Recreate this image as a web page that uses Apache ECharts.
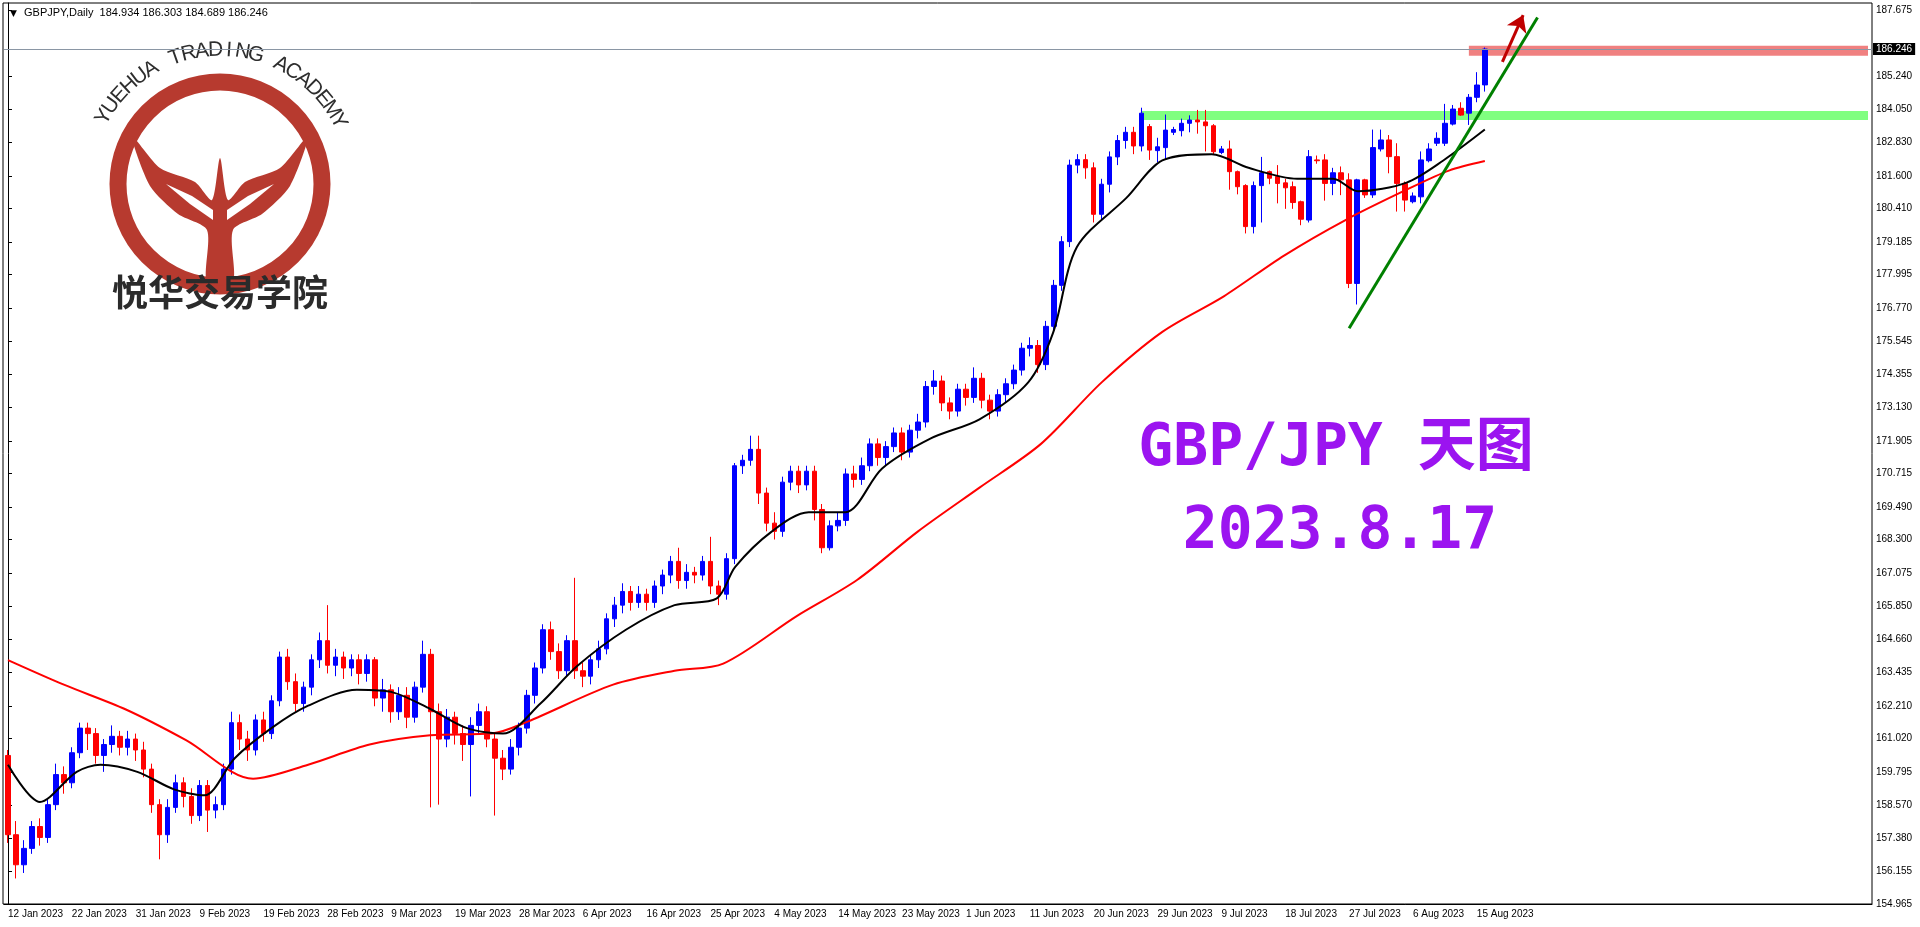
<!DOCTYPE html>
<html><head><meta charset="utf-8">
<script src="https://cdn.jsdelivr.net/npm/echarts@6/dist/echarts.min.js"></script>
<style>html,body{margin:0;padding:0;background:#fff}#c{width:1920px;height:927px}</style>
</head><body><div id="c"></div>
<script>
// ---- data ----
const dateLabels = ['12 Jan 2023','22 Jan 2023','31 Jan 2023','9 Feb 2023','19 Feb 2023','28 Feb 2023','9 Mar 2023','19 Mar 2023','28 Mar 2023','6 Apr 2023','16 Apr 2023','25 Apr 2023','4 May 2023','14 May 2023','23 May 2023','1 Jun 2023','11 Jun 2023','20 Jun 2023','29 Jun 2023','9 Jul 2023','18 Jul 2023','27 Jul 2023','6 Aug 2023','15 Aug 2023'];
const priceTicks = [154.965,156.155,157.380,158.570,159.795,161.020,162.210,163.435,164.660,165.850,167.075,168.300,169.490,170.715,171.905,173.130,174.355,175.545,176.770,177.995,179.185,180.410,181.600,182.830,184.050,185.240,187.675];
const opens = [160.4,157.5,156.4,157.0,157.8,157.4,158.6,159.7,159.4,160.5,161.4,161.2,160.4,160.8,161.1,160.7,161.0,160.6,159.9,158.6,157.5,158.5,159.4,158.9,158.2,159.3,158.4,158.6,159.9,161.6,161.0,160.6,161.7,161.2,162.4,164.0,163.1,162.3,162.9,163.9,164.6,163.7,164.0,163.6,163.9,163.4,163.9,162.5,162.8,162.0,162.6,161.8,162.9,164.1,162.0,161.0,161.8,161.2,160.8,161.5,162.0,161.0,160.3,159.9,160.7,161.4,162.6,163.6,165.0,164.2,163.5,164.6,163.5,163.3,163.9,164.3,165.4,165.9,166.4,166.0,166.3,166.0,166.6,167.0,167.5,166.8,167.1,167.0,167.5,166.6,166.3,167.6,171.0,171.2,171.6,170.0,168.9,168.6,170.4,170.8,170.3,170.8,169.4,168.0,168.8,169.0,170.7,170.5,171.0,171.8,171.3,171.7,172.2,171.5,172.3,172.6,173.9,174.1,173.3,173.0,173.8,173.5,174.2,173.4,173.0,173.6,174.0,174.5,175.3,175.4,174.7,176.1,177.6,179.2,182.0,182.2,181.9,180.2,181.3,182.3,182.9,183.2,182.7,
183.41,182.53,182.64,183.2,183.26,183.53,183.65,183.58,183.44,182.46,182.59,181.76,181.25,179.75,181.25,181.76,181.58,181.35,181.21,180.66,179.99,182.19,182.19,181.33,181.72,181.46,177.67,181.46,180.91,182.59,182.92,182.31,181.33,180.66,180.84,182.16,182.8,182.8,183.5,184.08,183.9,184.48,184.934];
const closes = [157.5,156.4,157.0,157.8,157.4,158.6,159.7,159.4,160.5,161.4,161.2,160.4,160.8,161.1,160.7,161.0,160.6,159.9,158.6,157.5,158.5,159.4,158.9,158.2,159.3,158.4,158.6,159.9,161.6,161.0,160.6,161.7,161.2,162.4,164.0,163.1,162.3,162.9,163.9,164.6,163.7,164.0,163.6,163.9,163.4,163.9,162.5,162.8,162.0,162.6,161.8,162.9,164.1,162.0,161.0,161.8,161.2,160.8,161.5,162.0,161.0,160.3,159.9,160.7,161.4,162.6,163.6,165.0,164.2,163.5,164.6,163.5,163.3,163.9,164.3,165.4,165.9,166.4,166.0,166.3,166.0,166.6,167.0,167.5,166.8,167.1,167.0,167.5,166.6,166.3,167.6,171.0,171.2,171.6,170.0,168.9,168.6,170.4,170.8,170.3,170.8,169.4,168.0,168.8,169.0,170.7,170.5,171.0,171.8,171.3,171.7,172.2,171.5,172.3,172.6,173.9,174.1,173.3,173.0,173.8,173.5,174.2,173.4,173.0,173.6,174.0,174.5,175.3,175.4,174.7,176.1,177.6,179.2,182.0,182.2,181.9,180.2,181.3,182.3,182.9,183.2,182.7,183.9,
182.55,182.67,183.28,183.3,183.53,183.65,183.58,183.44,182.49,182.59,181.76,181.21,179.75,181.25,181.72,181.52,181.33,181.17,180.63,180.02,182.31,182.16,181.33,181.72,181.46,177.67,181.46,180.91,182.64,182.92,182.31,181.33,180.72,180.87,182.19,182.59,182.98,183.53,184.05,183.83,184.48,184.93,186.246];
const lows = [157.2,155.9,156.1,156.8,157.1,157.2,158.4,159.0,159.2,160.3,160.6,160.1,159.8,160.5,160.4,160.4,160.2,159.6,158.3,156.6,157.2,158.3,158.5,157.9,158.0,157.6,158.1,158.4,159.7,160.6,160.2,160.4,160.9,161.0,162.2,162.8,162.0,162.0,162.6,163.6,163.4,163.3,163.2,163.3,163.0,163.1,162.2,162.0,161.6,161.7,161.4,161.6,162.7,158.5,158.6,160.7,160.8,160.2,158.9,161.2,160.7,158.2,159.5,159.7,160.4,161.2,162.3,163.4,163.9,163.2,163.3,163.2,162.9,163.0,163.6,164.1,165.1,165.6,165.7,165.8,165.7,165.8,166.3,166.7,166.5,166.5,166.7,166.8,166.3,165.9,166.1,167.4,170.7,171.0,169.6,168.6,168.3,168.4,170.1,170.0,170.1,169.0,167.8,167.9,168.6,168.8,170.2,170.3,170.8,171.0,171.0,171.5,171.2,171.3,172.0,172.4,173.6,173.0,172.7,172.8,173.2,173.3,173.1,172.7,172.8,173.3,173.8,174.3,175.0,174.4,174.5,175.9,177.4,179.0,181.7,181.5,179.9,180.0,181.0,182.0,182.6,182.4,182.5,
182.19,182.1,182.2,183.1,183.05,183.2,183.15,182.5,182.4,182.4,181.1,180.93,179.5,179.5,179.9,181.3,180.6,180.4,180.4,179.8,179.9,182.05,180.7,180.9,180.9,177.5,176.9,180.8,180.8,182.5,181.7,180.3,180.3,180.6,180.6,182.1,182.7,182.7,183.45,183.8,183.47,184.3,184.689];
const highs = [160.6,158.0,157.3,158.0,158.1,158.8,160.1,160.0,160.7,161.6,161.6,161.4,161.0,161.5,161.3,161.3,161.2,160.9,160.1,158.8,158.8,159.7,159.6,159.2,159.5,159.5,158.9,160.1,162.0,161.9,161.3,161.9,162.0,162.6,164.2,164.3,163.4,163.1,164.1,164.9,165.9,164.3,164.2,164.1,164.1,164.1,164.0,163.2,163.0,162.9,162.9,163.1,164.6,164.3,162.3,162.1,162.0,161.5,161.8,162.3,162.2,161.2,160.6,161.0,161.6,162.8,163.8,165.2,165.3,164.5,164.8,166.9,163.8,164.1,164.6,165.6,166.2,166.7,166.6,166.6,166.5,166.8,167.2,167.7,168.0,167.4,167.3,167.7,168.4,166.8,167.8,171.1,171.4,172.1,172.1,170.2,169.3,170.6,171.0,171.0,171.0,171.0,169.6,169.0,169.3,170.9,171.0,171.3,172.0,172.0,171.9,172.4,172.4,172.5,172.9,174.1,174.5,174.3,173.5,174.0,174.0,174.6,174.4,173.6,173.8,174.2,174.7,175.5,175.7,175.6,176.3,177.8,179.4,182.2,182.4,182.4,182.1,181.5,182.5,183.1,183.4,183.4,184.1,
183.5,183.0,183.85,183.4,183.7,183.82,184.02,184.02,183.5,182.7,182.9,181.8,181.3,181.4,182.3,181.8,182.0,181.5,181.4,180.7,182.55,182.35,182.4,181.9,181.95,181.7,181.5,181.5,183.3,183.3,183.1,182.8,181.4,181.0,182.5,182.8,183.2,184.24,184.2,184.3,184.6,185.4,186.303];
const maFastPts = [[0,160.06],[4,158.7],[8.6,159.8],[11.6,160.06],[16.2,159.8],[20.8,159.16],[24.6,158.94],[28.4,160.3],[33,161.4],[37.6,162.22],[43.7,162.8],[48.3,162.7],[52.9,162.1],[57.5,161.4],[62,161.2],[66.7,162.3],[71.3,163.67],[77.4,165.0],[83.5,165.9],[88.8,166.15],[91.1,167.3],[95.7,168.6],[100.3,169.3],[104.9,169.3],[109.5,170.9],[115.6,172.0],[121.7,172.7],[127.8,174.05],[130.9,175.85],[133.9,179.0],[140.1,180.8],[144.6,182.17],[150.8,182.4],[155.4,181.9],[161.5,181.5],[166,181.5],[169.1,181.04],[175.2,181.36],[179.8,182.17],[185,183.3]];
const maSlowPts = [[0,163.89],[7,162.99],[14.7,162.09],[22.3,160.96],[30.7,159.55],[37.6,160.06],[45.3,160.8],[52.9,161.14],[60.6,161.2],[65.1,161.64],[75.8,162.99],[83.5,163.5],[89.6,163.76],[98.8,165.5],[106.4,166.83],[114,168.6],[121.7,170.2],[129.4,171.8],[137,174.05],[144.6,175.9],[152.3,177.2],[159.9,178.7],[167.6,180.0],[175.2,181.1],[180.5,181.8],[185,182.15]];
const trendLine = [[168.0,176.03],[191.6,187.4]];
const arrowLine = [[187.2,185.78],[189.8,187.49]];
const lastPrice = 186.246;
const resistanceBand = [183.65,183.98];
const targetBand = [186.0,186.37];

// ---- build ----
const SLOTS = 234;
const cats = []; for (let i=0;i<SLOTS;i++) cats.push(String(i));
const candles = opens.map((o,i)=>[o,closes[i],lows[i],highs[i]]);
const chart = echarts.init(document.getElementById('c'));
const logoC = [220,184];
const arcText = 'YUEHUA TRADING ACADEMY';
const logoEls = [];
const a0 = -150, a1 = -28, R = 134;
for (let k=0;k<arcText.length;k++){
  const ang = (a0 + (a1-a0)*k/(arcText.length-1))*Math.PI/180;
  logoEls.push({type:'text', x: logoC[0]+R*Math.cos(ang), y: logoC[1]+R*Math.sin(ang), rotation: -(ang+Math.PI/2),
    style:{text:arcText[k], font:'21px "Liberation Sans"', fill:'#2e2e2e', align:'center', verticalAlign:'middle'}});
}
const graphics = [
  {type:'rect', shape:{x:3,y:3,width:1869,height:901}, style:{fill:null, stroke:'#000', lineWidth:1}, z:-1},
  {type:'text', x:10, y:9, style:{text:'▼', font:'9px "DejaVu Sans"', fill:'#000'}},
  {type:'text', x:24, y:7, style:{text:'GBPJPY,Daily  184.934 186.303 184.689 186.246', font:'11px "Liberation Sans"', fill:'#000'}},
  {type:'circle', shape:{cx:logoC[0], cy:logoC[1], r:102}, style:{fill:null, stroke:'#b73a2f', lineWidth:17}},
  {type:'polygon', shape:{smooth:0.25, points:[[207,282],[207,230],[178,214],[150,186],[132,136],[160,168],[195,182],[212,200],[220,158],[228,200],[245,182],[280,168],[308,136],[290,186],[262,214],[233,230],[233,282]]}, style:{fill:'#b73a2f'}},
  {type:'polygon', shape:{points:[[213,220],[190,204],[166,184],[192,196],[213,210]]}, style:{fill:'#fff'}},
  {type:'polygon', shape:{points:[[227,220],[250,204],[274,184],[248,196],[227,210]]}, style:{fill:'#fff'}},
  ...logoEls,
  {type:'text', x:220, y:292, style:{text:'悦华交易学院', font:'bold 36px "Noto Sans CJK SC"', fill:'#2b2b2b', align:'center', verticalAlign:'middle'}},
  {type:'text', x:1336, y:450, style:{text:'GBP/JPY 天图', font:'bold 58px "DejaVu Sans Mono", "Noto Sans CJK SC"', fill:'#9b14f0', align:'center', verticalAlign:'middle'}},
  {type:'text', x:1340, y:533, style:{text:'2023.8.17', font:'bold 58px "DejaVu Sans Mono"', fill:'#9b14f0', align:'center', verticalAlign:'middle'}}
];

chart.setOption({
  animation:false,
  backgroundColor:'#fff',
  grid:{left:4, right:48, top:3, bottom:23},
  xAxis:[{type:'category', data:cats, boundaryGap:true,
      axisLine:{lineStyle:{color:'#000'}},
      axisTick:{interval:(i)=>i%8===0 && i/8<dateLabels.length, length:4, lineStyle:{color:'#000'}, alignWithLabel:true},
      axisLabel:{interval:(i)=>i%8===0 && i/8<dateLabels.length, formatter:(v,i)=>dateLabels[i/8]||'', color:'#000', fontFamily:'Liberation Sans', fontSize:10, align:'left', margin:5},
      splitLine:{show:false}},
    {type:'value', min:-0.5, max:SLOTS-0.5, show:false}],
  yAxis:{type:'value', position:'right', min:154.965, max:187.931,
    axisLine:{show:true, lineStyle:{color:'#000'}},
    axisTick:{show:true, customValues:priceTicks, length:4, lineStyle:{color:'#000'}},
    axisLabel:{customValues:priceTicks, formatter:(v)=>v.toFixed(3), color:'#000', fontFamily:'Liberation Sans', fontSize:10, margin:4},
    splitLine:{show:false}},
  graphic:graphics,
  series:[
    {type:'candlestick', data:candles, barWidth:5, z:3,
     itemStyle:{color:'#0000ff', color0:'#ff0000', borderColor:'#0000ff', borderColor0:'#ff0000', borderWidth:1},
     markArea:{silent:true, data:[
       [{xAxis:'142', yAxis:resistanceBand[0], itemStyle:{color:'#80ff80'}},{xAxis:String(SLOTS-1), yAxis:resistanceBand[1]}],
       [{xAxis:'183', yAxis:targetBand[0], itemStyle:{color:'#f08080'}},{xAxis:String(SLOTS-1), yAxis:targetBand[1]}]]},
     markLine:{silent:true, symbol:'none', data:[{yAxis:lastPrice}], lineStyle:{color:'#8a96a4', type:'solid', width:1},
       label:{position:'end', formatter:lastPrice.toFixed(3), backgroundColor:'#000', color:'#fff', fontFamily:'Liberation Sans', fontSize:10, padding:[1,3], distance:1}}},
    {type:'line', xAxisIndex:1, data:maSlowPts, smooth:0.3, showSymbol:false, lineStyle:{color:'#ff0000', width:2}, z:4},
    {type:'line', xAxisIndex:1, data:maFastPts, smooth:0.3, showSymbol:false, lineStyle:{color:'#000', width:2}, z:4},
    {type:'line', xAxisIndex:1, data:trendLine, showSymbol:false, lineStyle:{color:'#008000', width:3}, z:5},
    {type:'lines', coordinateSystem:'cartesian2d', xAxisIndex:1, data:[{coords:arrowLine}], symbol:['none','arrow'], symbolSize:16, lineStyle:{color:'#c00000', width:3, opacity:1}, z:5}
  ]
});
</script></body></html>
